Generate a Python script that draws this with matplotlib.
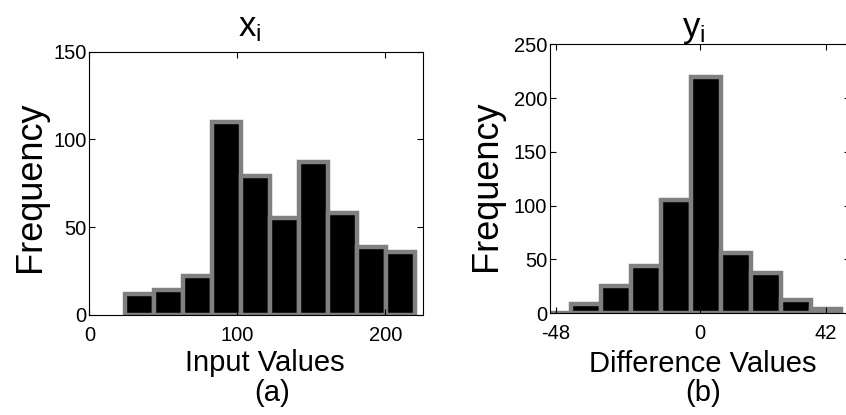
import matplotlib
matplotlib.use("Agg")
from matplotlib import pyplot as plt

# 直方图数据
x_bin_left = [24, 43.6, 63.2, 82.8, 102.4, 122.0, 141.6, 161.2, 180.8, 200.4]
x_bin_width = 19.6
x_counts = [12, 14, 22, 110, 79, 55, 87, 58, 39, 36]

y_bin_centers = [-48, -38, -28, -18, -8, 2, 12, 22, 32, 42]
y_bin_width = 10
y_counts = [0, 9, 25, 44, 105, 220, 56, 37, 12, 4]

x_ticks = [0, 100, 200]
y_ticks_a = [0, 50, 100, 150]
y_ticks_b = [0, 50, 100, 150, 200, 250]
diff_ticks = [-48, 0, 42]

plt.rcParams['font.family'] = ['Liberation Sans', 'DejaVu Sans']
plt.rcParams['mathtext.fontset'] = 'custom'
plt.rcParams['mathtext.rm'] = 'Liberation Sans'
plt.rcParams['mathtext.it'] = 'Liberation Sans'
plt.rcParams['axes.unicode_minus'] = False

EDGE = (0.5, 0.5, 0.5)

fig = plt.figure(figsize=(8.46, 4.15), dpi=100)
ax1 = fig.add_axes([0.1056, 0.2410, 0.3948, 0.6345])
ax2 = fig.add_axes([0.6501, 0.2451, 0.3546, 0.6482])


def style(ax):
    ax.tick_params(direction='in', top=True, right=True, length=4, width=0.8,
                   labelsize=14.5, colors='black')
    ax.tick_params(axis='x', pad=8)
    ax.tick_params(axis='y', pad=2)
    for s in ax.spines.values():
        s.set_linewidth(0.8)
        s.set_color('black')


# (a) 输入值
ax1.bar(x_bin_left, x_counts, width=x_bin_width, align='edge',
        color='black', edgecolor=EDGE, linewidth=3.2)
ax1.set_xlim(0, 225.7)
ax1.set_ylim(0, 150)
ax1.set_xticks(x_ticks)
ax1.set_yticks(y_ticks_a)
style(ax1)
ax1.set_title(r'$\mathrm{x}_\mathrm{i}$', fontsize=25, pad=11, x=0.48)
ax1.text(0.524, -0.13, 'Input Values', transform=ax1.transAxes,
         ha='center', va='top', fontsize=21)
ax1.text(0.547, -0.245, '(a)', transform=ax1.transAxes,
         ha='center', va='top', fontsize=21)
ax1.text(-0.175, 0.487, 'Frequency', transform=ax1.transAxes, rotation=90,
         ha='center', va='center', fontsize=26)

# (b) 差值
ax2.bar(y_bin_centers, y_counts, width=y_bin_width, align='center',
        color='black', edgecolor=EDGE, linewidth=3.2)
ax2.set_xlim(-50, 50)
ax2.set_ylim(0, 250)
ax2.set_xticks(diff_ticks)
ax2.set_yticks(y_ticks_b)
style(ax2)
ax2.set_title(r'$\mathrm{y}_\mathrm{i}$', fontsize=25, pad=5, x=0.48)
ax2.text(0.51, -0.135, 'Difference Values', transform=ax2.transAxes,
         ha='center', va='top', fontsize=21)
ax2.text(0.51, -0.245, '(b)', transform=ax2.transAxes,
         ha='center', va='top', fontsize=21)
ax2.text(-0.213, 0.474, 'Frequency', transform=ax2.transAxes, rotation=90,
         ha='center', va='center', fontsize=26)

fig.savefig('out.png', dpi=100)
